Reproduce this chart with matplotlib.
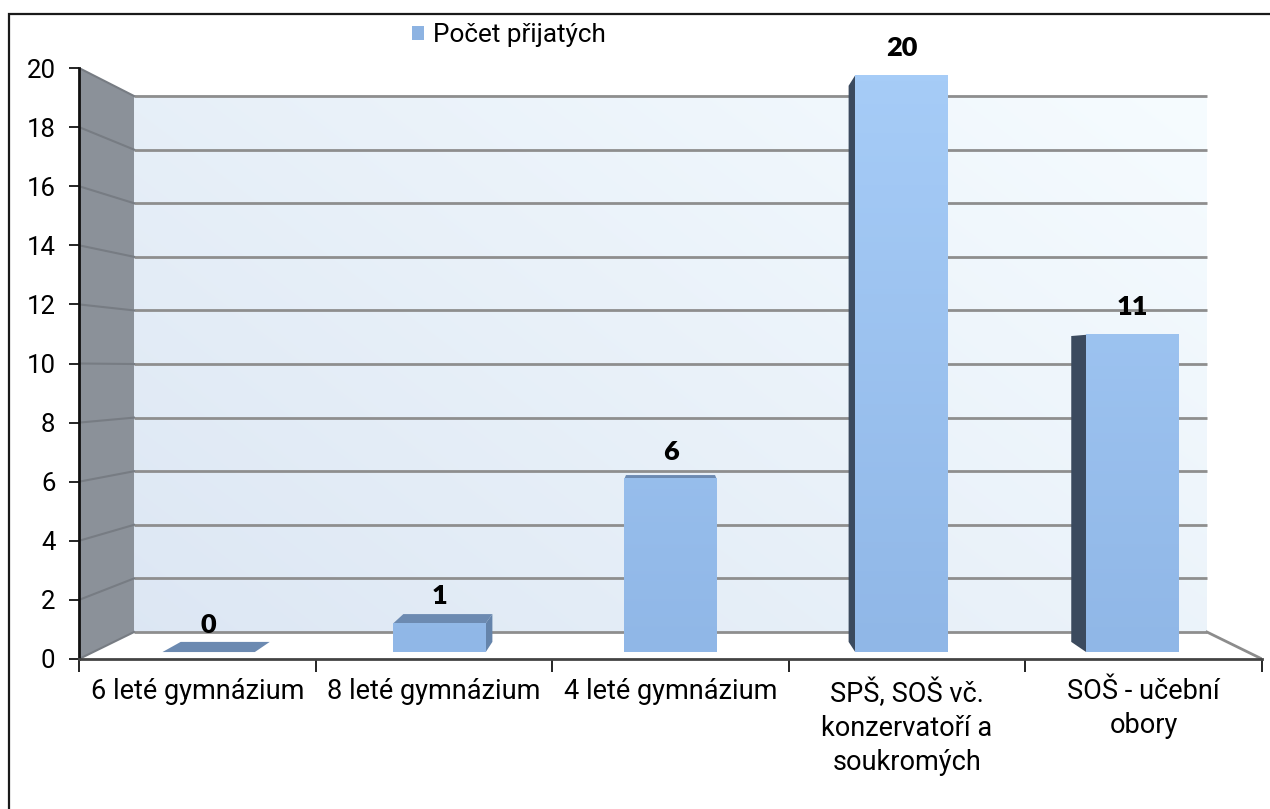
import numpy as np
import matplotlib
matplotlib.use("Agg")
import matplotlib.pyplot as plt
from matplotlib.patches import Polygon, Rectangle, Patch

categories = ["6 leté gymnázium", "8 leté gymnázium", "4 leté gymnázium",
              "SPŠ, SOŠ vč.\nkonzervatoří a\nsoukromých", "SOŠ - učební\nobory"]
values = [0, 1, 6, 20, 11]
series_name = "Počet přijatých"
y_ticks = list(range(0, 21, 2))

plt.rcParams['font.family'] = ['Roboto', 'DejaVu Sans']

W, H = 1270, 809
fig = plt.figure(figsize=(12.7, 8.09), dpi=100)
# front plane of the 3d box: category index on x, value on y
ax = fig.add_axes([79 / W, 1 - 659 / H, 1183 / W, 591 / H])
ax.patch.set_visible(False)

# simple perspective towards a vanishing point
vp = (2.0, 9.81)
S_WALL, S_BAR_F, S_BAR_B = 0.907, 0.976, 0.941
x_lo, x_hi = -0.5, len(categories) - 0.5
y_top = max(y_ticks)


def proj(x, y, s):
    return (vp[0] + (x - vp[0]) * s, vp[1] + (y - vp[1]) * s)


# back wall with diagonal gradient
bx0, by0 = proj(x_lo, 0, S_WALL)
bx1, by1 = proj(x_hi, y_top, S_WALL)
u = np.linspace(0, 1, 200)
gu, gv = np.meshgrid(u, u)
t = (0.6 * gu + 0.4 * gv)[..., None]
c0 = np.array([0.865, 0.905, 0.955])
c1 = np.array([0.965, 0.988, 1.0])
ax.imshow(c0 + (c1 - c0) * t, extent=[bx0, bx1, by0, by1], origin='lower',
          aspect='auto', zorder=0, interpolation='bilinear')

# left side wall
side = [proj(x_lo, 0, 1), proj(x_lo, 0, S_WALL), proj(x_lo, y_top, S_WALL), proj(x_lo, y_top, 1)]
ax.add_patch(Polygon(side, closed=True, facecolor='#8b9199', edgecolor='none', zorder=1))

# floor
floor = [proj(x_lo, 0, 1), proj(x_hi, 0, 1), proj(x_hi, 0, S_WALL), proj(x_lo, 0, S_WALL)]
ax.add_patch(Polygon(floor, closed=True, facecolor='white', edgecolor='none', zorder=1))
fr = [proj(x_hi, 0, S_WALL), proj(x_hi, 0, 1)]
ax.plot([p[0] for p in fr], [p[1] for p in fr], color='#8c8c8c', lw=2, zorder=2)

# gridlines on back and side wall
for v in y_ticks:
    a, b = proj(x_lo, v, S_WALL), proj(x_hi, v, S_WALL)
    ax.plot([a[0], b[0]], [a[1], b[1]], color='#8e8e8e', lw=2, zorder=2, solid_capstyle='butt')
    f = proj(x_lo, v, 1)
    ax.plot([f[0], a[0]], [f[1], a[1]], color='#777c83', lw=1.5, zorder=2)

# bars
half = 0.2
cb = np.array([0.565, 0.718, 0.906])
ct = np.array([0.651, 0.800, 0.969])
for i, v in enumerate(values):
    xl, xr = i - half, i + half
    if i > vp[0]:
        poly = [proj(xl, 0, S_BAR_F), proj(xl, 0, S_BAR_B), proj(xl, v, S_BAR_B), proj(xl, v, S_BAR_F)]
        ax.add_patch(Polygon(poly, closed=True, facecolor='#3b4a5e', edgecolor='none', zorder=3))
    elif i < vp[0]:
        poly = [proj(xr, 0, S_BAR_F), proj(xr, 0, S_BAR_B), proj(xr, v, S_BAR_B), proj(xr, v, S_BAR_F)]
        ax.add_patch(Polygon(poly, closed=True, facecolor='#6584ab', edgecolor='none', zorder=3))
    if v < vp[1]:
        poly = [proj(xl, v, S_BAR_F), proj(xr, v, S_BAR_F), proj(xr, v, S_BAR_B), proj(xl, v, S_BAR_B)]
        ax.add_patch(Polygon(poly, closed=True, facecolor='#6c8ab1', edgecolor='none', zorder=3))
    if v > 0:
        fx0, fy0 = proj(xl, 0, S_BAR_F)
        fx1, fy1 = proj(xr, v, S_BAR_F)
        k = np.linspace(0, v / y_top, 100)[:, None, None]
        grad = np.repeat(cb + (ct - cb) * k, 2, axis=1)
        ax.imshow(grad, extent=[fx0, fx1, fy0, fy1], origin='lower', aspect='auto', zorder=4)
    lx, ly = proj(i, v, S_BAR_F)
    ax.annotate(str(v), xy=(lx, ly), xytext=(0, 14), textcoords='offset points',
                ha='center', va='baseline', fontsize=19.5, fontweight='heavy',
                family=['Lato', 'DejaVu Sans'], color='black', zorder=6)

ax.set_xlim(x_lo, x_hi)
ax.set_ylim(0, y_top)

ax.set_yticks(y_ticks)
ax.tick_params(axis='y', direction='out', length=7, width=1.2, pad=10, labelsize=18.5, colors='black')
ax.set_xticks(np.arange(len(categories) + 1) - 0.5)
ax.set_xticklabels([])
ax.set_xticks(np.arange(len(categories)), minor=True)
ax.set_xticklabels(categories, minor=True, fontsize=19.5, linespacing=1.33)
ax.tick_params(axis='x', which='major', direction='out', length=9, width=1.2, color='black')
ax.tick_params(axis='x', which='minor', length=0, pad=14)

for s in ['top', 'right']:
    ax.spines[s].set_visible(False)
ax.spines['left'].set_linewidth(2)
ax.spines['left'].set_color('#111111')
ax.spines['bottom'].set_linewidth(2)
ax.spines['bottom'].set_color('#444444')
ax.spines['left'].set_zorder(5)
ax.spines['bottom'].set_zorder(5)

fig.legend(handles=[Patch(facecolor='#8db3e2', edgecolor='none')], labels=[series_name],
           loc='center left', bbox_to_anchor=(412 / W, 1 - 35 / H), frameon=False,
           fontsize=18.8, handlelength=0.47, handleheight=0.47, handletextpad=0.32,
           borderpad=0, borderaxespad=0)

# chart area border
fig.add_artist(Rectangle((9 / W, -0.05), 1.2, 1 - 14 / H + 0.05, transform=fig.transFigure,
                         fill=False, edgecolor='#1a1a1a', lw=1.6))

fig.savefig("out.png", dpi=100)
